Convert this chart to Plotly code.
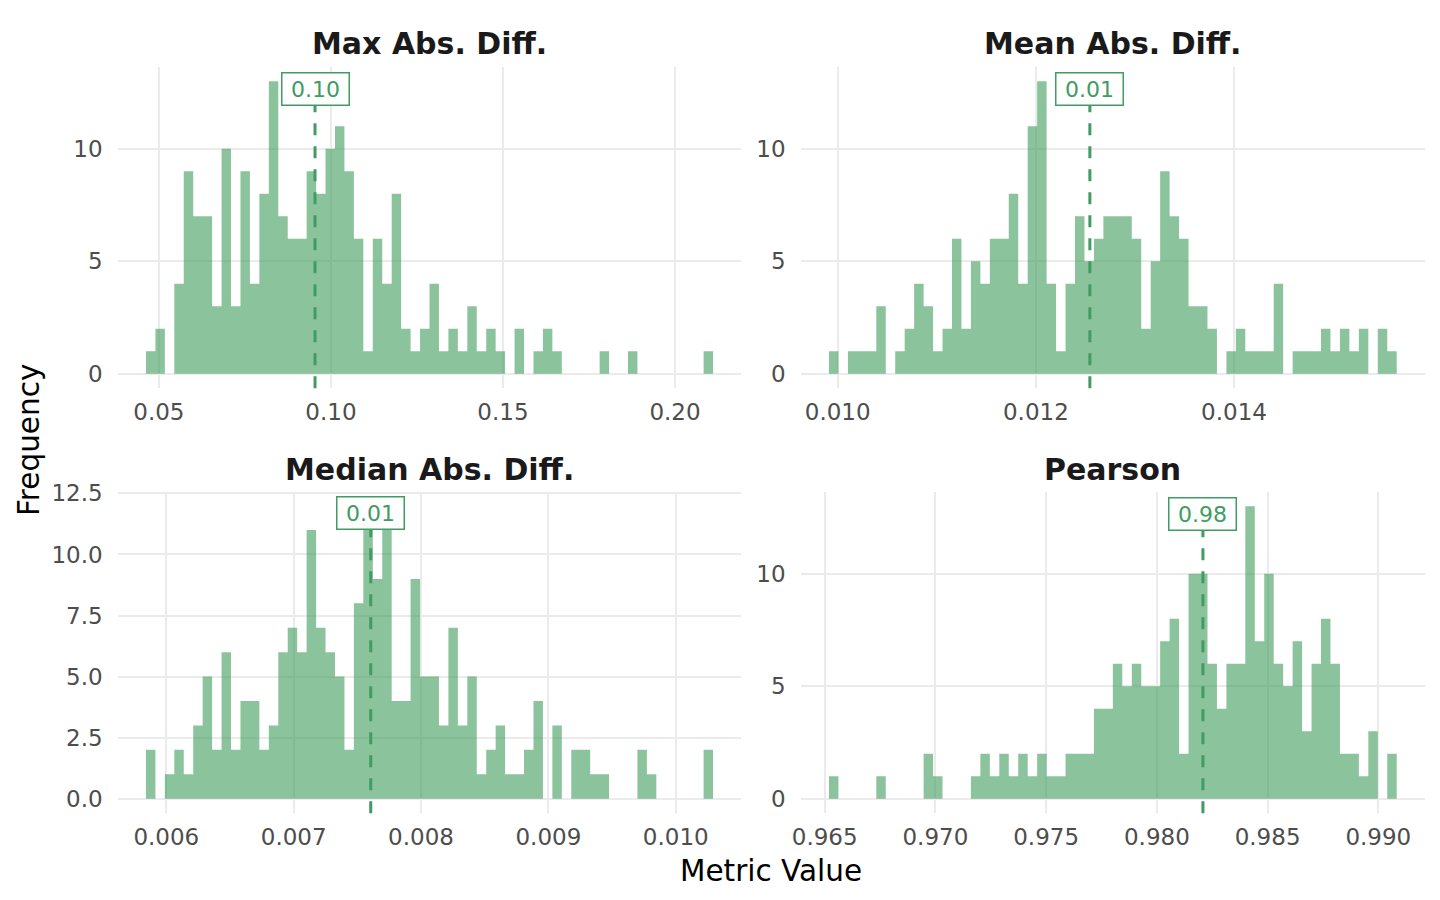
import plotly.graph_objects as go

# Facet titles.
panel_titles = ["Max Abs. Diff.", "Mean Abs. Diff.", "Median Abs. Diff.", "Pearson"]

# Histogram counts (60 bins per facet).
max_abs_counts = [1, 2, 0, 4, 9, 7, 7, 3, 10, 3, 9, 4, 8, 13, 7, 6, 6, 9, 8, 10,
                  11, 9, 6, 1, 6, 4, 8, 2, 1, 2, 4, 1, 2, 1, 3, 1, 2, 1, 0, 2,
                  0, 1, 2, 1, 0, 0, 0, 0, 1, 0, 0, 1, 0, 0, 0, 0, 0, 0, 0, 1]
mean_abs_counts = [1, 0, 1, 1, 1, 3, 0, 1, 2, 4, 3, 1, 2, 6, 2, 5, 4, 6, 6, 8,
                   4, 11, 13, 4, 1, 4, 7, 5, 6, 7, 7, 7, 6, 2, 5, 9, 7, 6, 3, 3,
                   2, 0, 1, 2, 1, 1, 1, 4, 0, 1, 1, 1, 2, 1, 2, 1, 2, 0, 2, 1]
median_abs_counts = [2, 0, 1, 2, 1, 3, 5, 2, 6, 2, 4, 4, 2, 3, 6, 7, 6, 11, 7, 6,
                     5, 2, 8, 11, 9, 11, 4, 4, 9, 5, 5, 3, 7, 3, 5, 1, 2, 3, 1, 1,
                     2, 4, 0, 3, 0, 2, 2, 1, 1, 0, 0, 0, 2, 1, 0, 0, 0, 0, 0, 2]
pearson_counts = [1, 0, 0, 0, 0, 1, 0, 0, 0, 0, 2, 1, 0, 0, 0, 1, 2, 1, 2, 1,
                  2, 1, 2, 1, 1, 2, 2, 2, 4, 4, 6, 5, 6, 5, 5, 7, 8, 2, 10, 10,
                  6, 4, 6, 6, 13, 7, 10, 6, 5, 7, 3, 6, 8, 6, 2, 2, 1, 3, 0, 2]

# Outer edges of the binned range for each facet.
bin_lo = [0.04625, 0.009912, 0.005840, 0.965195]
bin_hi = [0.21105, 0.015642, 0.010293, 0.990830]

# Mean marker per facet.
mean_values = [0.09538, 0.012545, 0.007605, 0.98208]
mean_labels = ["0.10", "0.01", "0.01", "0.98"]
label_y = [12.67, 12.67, 11.68, 12.67]

# Axis ticks.
x_ticks = [[0.05, 0.10, 0.15, 0.20],
           [0.010, 0.012, 0.014],
           [0.006, 0.007, 0.008, 0.009, 0.010],
           [0.965, 0.970, 0.975, 0.980, 0.985, 0.990]]
x_fmt = [".2f", ".3f", ".3f", ".3f"]
y_ticks = [[0, 5, 10], [0, 5, 10], [0, 2.5, 5, 7.5, 10, 12.5], [0, 5, 10]]
y_fmt = ["d", "d", ".1f", "d"]
y_top = [13.65, 13.65, 12.57, 13.65]

counts = [max_abs_counts, mean_abs_counts, median_abs_counts, pearson_counts]

LINE_GREEN = "#409C62"
BAR_FILL = "rgba(62,155,90,0.6)"
FONT = "DejaVu Sans"
W, H = 1440, 900

# Panel placement (paper fractions), 2x2 facet grid.
col_dom = [[117.6 / W, 741.4 / W], [800.6 / W, 1425.1 / W]]
row_dom = [[1 - 388.3 / H, 1 - 66.7 / H], [1 - 813.3 / H, 1 - 491.7 / H]]

fig = go.Figure()

for i in range(4):
    n = len(counts[i])
    w = (bin_hi[i] - bin_lo[i]) / n
    edges = [bin_lo[i] + k * w for k in range(n + 1)]
    ax = "" if i == 0 else str(i + 1)
    # histogram drawn as one filled step outline (no seams between bins)
    fig.add_trace(go.Scatter(x=edges, y=counts[i] + [counts[i][-1]],
                             mode="lines", line=dict(width=0, shape="hv"),
                             fill="tozeroy", fillcolor=BAR_FILL,
                             xaxis="x" + ax, yaxis="y" + ax, hoverinfo="x+y"))

    span = bin_hi[i] - bin_lo[i]
    r, c = divmod(i, 2)
    fig.layout["xaxis" + ax] = dict(
        domain=col_dom[c], anchor="y" + ax, automargin=False,
        range=[bin_lo[i] - 0.05 * span, bin_hi[i] + 0.05 * span],
        tickmode="array", tickvals=x_ticks[i], tickformat=x_fmt[i],
        showgrid=True, gridcolor="#EBEBEB", gridwidth=2, zeroline=False,
        showline=False, ticks="", ticklabelstandoff=8,
        tickfont=dict(family=FONT, size=23, color="#4D4D4D"))
    fig.layout["yaxis" + ax] = dict(
        domain=row_dom[r], anchor="x" + ax, automargin=False,
        range=[-0.05 * y_top[i] / 1.05, y_top[i]],
        tickmode="array", tickvals=y_ticks[i], tickformat=y_fmt[i],
        showgrid=True, gridcolor="#EBEBEB", gridwidth=2, zeroline=False,
        showline=False, ticks="", ticklabelstandoff=14,
        tickfont=dict(family=FONT, size=23, color="#4D4D4D"))

    # dashed mean line
    fig.add_shape(type="line", xref="x" + ax, yref="y" + ax + " domain",
                  x0=mean_values[i], x1=mean_values[i], y0=0, y1=1,
                  line=dict(color=LINE_GREEN, width=3, dash="12px,11px"))
    # mean label
    fig.add_annotation(x=mean_values[i], y=label_y[i], xref="x" + ax, yref="y" + ax,
                       text=mean_labels[i], showarrow=False,
                       xanchor="center", yanchor="middle",
                       font=dict(family=FONT, size=22, color=LINE_GREEN),
                       bgcolor="white", bordercolor=LINE_GREEN, borderwidth=1.5,
                       borderpad=2, width=62, height=27)
    # facet title
    fig.add_annotation(x=sum(col_dom[c]) / 2, y=row_dom[r][1] + 22.7 / H,
                       xref="paper", yref="paper", showarrow=False,
                       xanchor="center", yanchor="middle",
                       text="<b>" + panel_titles[i] + "</b>",
                       font=dict(family=FONT, size=30, color="#1A1A1A"))

fig.add_annotation(x=(col_dom[0][0] + col_dom[1][1]) / 2, y=1 - 871 / H,
                   xref="paper", yref="paper", xanchor="center", yanchor="middle",
                   text="Metric Value", showarrow=False,
                   font=dict(family=FONT, size=29.5, color="black"))
fig.add_annotation(x=29 / W, y=(row_dom[1][0] + row_dom[0][1]) / 2,
                   xref="paper", yref="paper", xanchor="center", yanchor="middle",
                   text="Frequency", showarrow=False, textangle=-90,
                   font=dict(family=FONT, size=29.5, color="black"))

fig.update_layout(width=W, height=H,
                  margin=dict(l=0, r=0, t=0, b=0, pad=0, autoexpand=False),
                  plot_bgcolor="white", paper_bgcolor="white", showlegend=False,
                  font=dict(family=FONT))

fig.write_html("out.html", config={"displayModeBar": False},
               post_script="document.body.style.margin = '0';")
